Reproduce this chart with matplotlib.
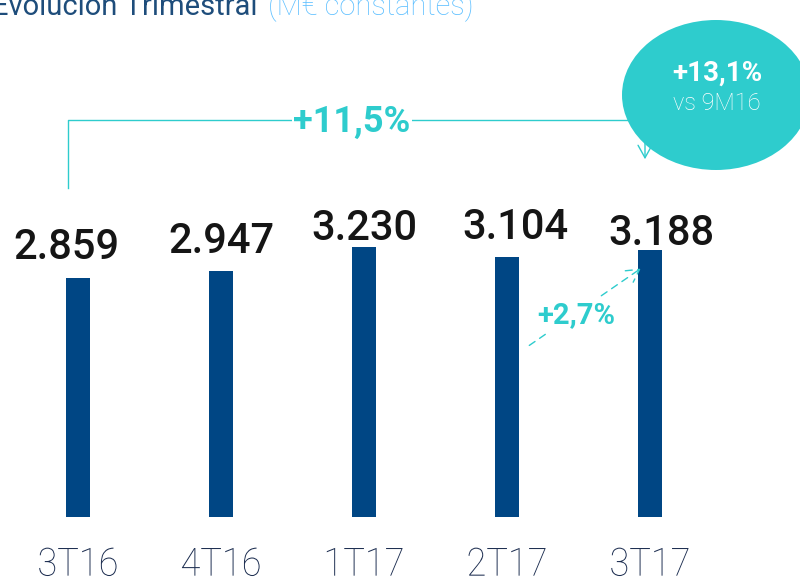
import matplotlib.pyplot as plt
from matplotlib.patches import Ellipse, FancyArrowPatch
from matplotlib.patheffects import AbstractPathEffect
from matplotlib.transforms import Affine2D

quarters = ["3T16", "4T16", "1T17", "2T17", "3T17"]
values = [2859, 2947, 3230, 3104, 3188]
value_labels = ["2.859", "2.947", "3.230", "3.104", "3.188"]
growth_year = "+11,5%"
growth_9m = "+13,1%"
growth_9m_sub = "vs 9M16"
growth_q = "+2,7%"

navy = "#004684"
teal = "#2ECCCD"


class Condense(AbstractPathEffect):
    # squeeze text horizontally around cx (display px) to mimic a condensed face
    def __init__(self, cx, sx):
        super().__init__()
        self.cx = cx
        self.sx = sx

    def draw_path(self, renderer, gc, tpath, affine, rgbFace=None):
        t = affine + Affine2D().translate(-self.cx, 0).scale(self.sx, 1).translate(self.cx, 0)
        renderer.draw_path(gc, tpath, t, rgbFace)


fig = plt.figure(figsize=(8, 5.8), dpi=100)
ax = fig.add_axes([0, 63 / 580, 1, 517 / 580])
x = list(range(len(quarters)))
ax.bar(x, values, width=0.165, color=navy)
ax.set_xlim(-0.545, 5.049)
ax.set_ylim(0, 6184)
for s in ax.spines.values():
    s.set_visible(False)
ax.set_yticks([])
ax.set_xticks(x)
ax.set_xticklabels(quarters, fontsize=28, color="#1B2C4F", family="Roboto",
                   fontweight="light")
ax.tick_params(axis="x", length=0, pad=21)
for i, lab in enumerate(ax.get_xticklabels()):
    cx = ax.transData.transform((i, 0))[0]
    lab.set_path_effects([Condense(cx, 0.93)])

# value labels above bars
dx = [-0.08, 0, 0, 0.06, 0.08]
dy = [359, 347, 215, 359, 203]
for i, (v, lab) in enumerate(zip(values, value_labels)):
    ax.text(i + dx[i], v + dy[i], lab, ha="center", va="center",
            fontsize=30, fontweight="medium", color="#151515", family="Roboto")

# title, clipped at the top as in the original
fig.text(258 / 800, 1 - 15 / 580, "Evolución Trimestral", fontsize=21,
         color="#1E4D7B", va="baseline", ha="right", family="Roboto")
fig.text(268 / 800, 1 - 15 / 580, "(M€ constantes)", fontsize=21,
         color="#5CBFFF", va="baseline", ha="left", family="Roboto",
         fontweight="light")


def px(xp, yp):
    return (xp / 800, 1 - yp / 580)


# bracket for year-on-year growth
fig.add_artist(plt.Line2D([px(68, 188)[0], px(68, 120)[0], px(645, 120)[0]],
                          [px(68, 188)[1], px(68, 120)[1], px(645, 120)[1]],
                          color=teal, lw=1.0, transform=fig.transFigure))
arr = FancyArrowPatch(px(645, 120), px(645, 162), transform=fig.transFigure,
                      arrowstyle="->,head_length=9,head_width=5", color=teal,
                      lw=1.0, mutation_scale=1)
fig.add_artist(arr)
fig.text(*px(352, 122), growth_year, fontsize=26, fontweight="bold", color=teal,
         ha="center", va="center", family="Roboto",
         bbox=dict(boxstyle="square,pad=0.05", fc="white", ec="none"))

# ellipse with 9M growth
ell = Ellipse(px(716, 95), 188 / 800, 150 / 580, transform=fig.transFigure,
              fc=teal, ec="none")
fig.add_artist(ell)
fig.text(*px(717, 73), growth_9m, fontsize=20, fontweight="bold", color="white",
         ha="center", va="center", family="Roboto")
fig.text(*px(717, 104), growth_9m_sub, fontsize=17, color="white",
         ha="center", va="center", family="Roboto", fontweight="light")

# dashed arrow quarter-on-quarter
qarr = FancyArrowPatch(px(527, 347), px(643, 267), transform=fig.transFigure,
                       arrowstyle="->,head_length=9,head_width=5", color=teal,
                       lw=1.0, linestyle=(0, (5, 4)), mutation_scale=1)
fig.add_artist(qarr)
fig.text(*px(576, 315), growth_q, fontsize=21, fontweight="bold", color=teal,
         ha="center", va="center", family="Roboto",
         bbox=dict(boxstyle="square,pad=0.1", fc="white", ec="none"))

fig.savefig("out.png", dpi=100)
